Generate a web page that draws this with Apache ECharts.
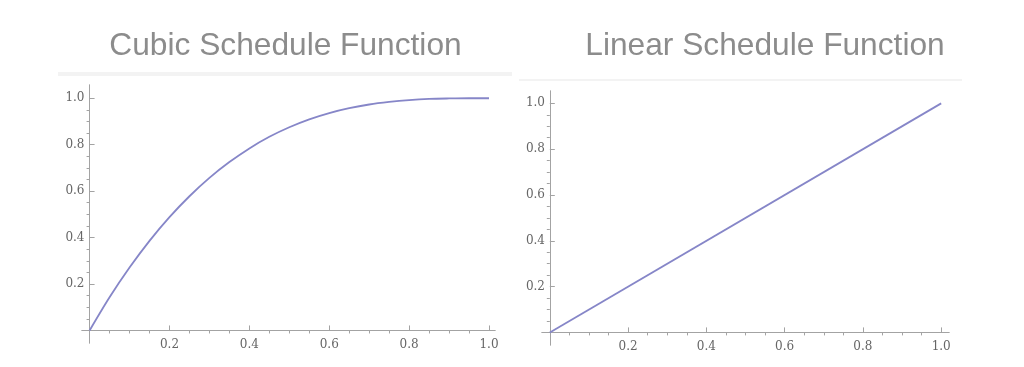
<!DOCTYPE html>
<html>
<head>
<meta charset="utf-8">
<script src="https://cdn.jsdelivr.net/npm/echarts@6/dist/echarts.min.js"></script>
<style>
html,body{margin:0;padding:0;background:#fff;}
#chart{width:1024px;height:367px;}
</style>
</head>
<body>
<div id="chart"></div>
<script>
// ---- data ----
var titles = ['Cubic Schedule Function', 'Linear Schedule Function'];
var cubicX = [0, 0.05, 0.1, 0.15, 0.2, 0.25, 0.3, 0.35, 0.4, 0.45, 0.5, 0.55, 0.6, 0.65, 0.7, 0.75, 0.8, 0.85, 0.9, 0.95, 1.0];
var cubicY = [0, 0.143, 0.271, 0.386, 0.488, 0.578, 0.657, 0.725, 0.784, 0.834, 0.875, 0.909, 0.936, 0.957, 0.973, 0.984, 0.992, 0.997, 0.999, 1.0, 1.0];
var linearX = [0, 1.0];
var linearY = [0, 1.0];
var majorTicks = [0.2, 0.4, 0.6, 0.8, 1.0];
var minorTicks = [0.05, 0.1, 0.15, 0.25, 0.3, 0.35, 0.45, 0.5, 0.55, 0.65, 0.7, 0.75, 0.85, 0.9, 0.95];

function zip(xs, ys) { return xs.map(function (x, i) { return [x, ys[i]]; }); }

var axisColor = '#a3a3a3';
var labelStyle = { color: '#666666', fontFamily: 'DejaVu Serif', fontSize: 12 };
var lineColor = '#8686c8';

function makeAxis(gridIndex, min, max, major, margin) {
  return {
    gridIndex: gridIndex, type: 'value', min: min, max: max,
    axisLine: { show: true, onZero: true, lineStyle: { color: axisColor, width: 1 } },
    axisTick: { show: true, inside: true, length: major ? 5 : 3, customValues: major ? majorTicks : minorTicks, lineStyle: { color: axisColor } },
    axisLabel: major ? Object.assign({ show: true, customValues: majorTicks, margin: margin, formatter: function (v) { return v.toFixed(1); } }, labelStyle) : { show: false },
    splitLine: { show: false }, minorTick: { show: false }
  };
}

var titleStyle = { fontFamily: 'Liberation Sans', fontSize: 31.7, fontWeight: 'normal', color: '#8c8c8c' };

var chart = echarts.init(document.getElementById('chart'), null, { renderer: 'canvas' });
chart.setOption({
  animation: false,
  backgroundColor: '#ffffff',
  title: [
    { text: titles[0], left: 280.5, top: 25, textAlign: 'center', textStyle: titleStyle },
    { text: titles[1], left: 760, top: 25, textAlign: 'center', textStyle: titleStyle }
  ],
  graphic: [
    { type: 'rect', shape: { x: 58, y: 72, width: 454, height: 4 }, style: { fill: '#f3f3f3' }, silent: true },
    { type: 'rect', shape: { x: 519, y: 79, width: 443, height: 2 }, style: { fill: '#f3f3f3' }, silent: true }
  ],
  grid: [
    { left: 82, top: 85, width: 413, height: 258, containLabel: false },
    { left: 542, top: 91, width: 407, height: 254, containLabel: false }
  ],
  xAxis: [
    makeAxis(0, -0.019, 1.015, true, -4.5), makeAxis(0, -0.019, 1.015, false, 0),
    makeAxis(1, -0.020, 1.020, true, -4.5), makeAxis(1, -0.020, 1.020, false, 0)
  ],
  yAxis: [
    makeAxis(0, -0.054, 1.057, true, -2.5), makeAxis(0, -0.054, 1.057, false, 0),
    makeAxis(1, -0.055, 1.054, true, -3), makeAxis(1, -0.055, 1.054, false, 0)
  ],
  series: [
    { type: 'line', xAxisIndex: 0, yAxisIndex: 0, data: zip(cubicX, cubicY), showSymbol: false, smooth: 0.3, lineStyle: { color: lineColor, width: 1.8 }, silent: true },
    { type: 'line', xAxisIndex: 2, yAxisIndex: 2, data: zip(linearX, linearY), showSymbol: false, lineStyle: { color: lineColor, width: 1.8 }, silent: true }
  ]
});
</script>
</body>
</html>
